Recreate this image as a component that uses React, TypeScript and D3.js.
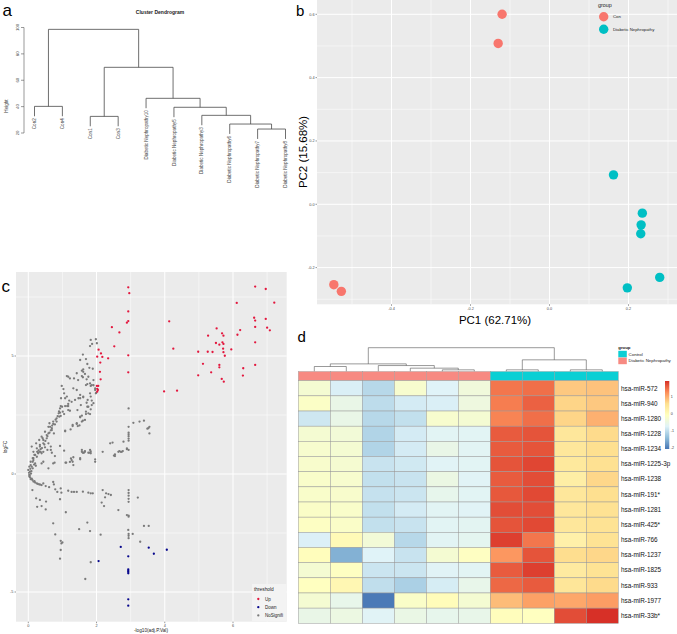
import React from "react";
import * as d3 from "d3";

const FONT = "'Liberation Sans', Arial, Helvetica, sans-serif";

// ---------- Panel a: cluster dendrogram ----------
const dendroLeaves = [
  "Con2", "Con4", "Con1", "Con3",
  "Diabetic Nephropathy10", "Diabetic Nephropathy5", "Diabetic Nephropathy3",
  "Diabetic Nephropathy6", "Diabetic Nephropathy7", "Diabetic Nephropathy8",
];
// R hclust style: negative = leaf (1-based in dendroLeaves), positive = earlier merge (1-based)
const dendroMerges: [number, number][] = [
  [-9, -10], [-8, 1], [-3, -4], [-7, 2], [-6, 4], [-1, -2], [-5, 5], [3, 7], [6, 8],
];
const dendroHeights = [23.0, 26.8, 32.6, 33.4, 39.5, 40.2, 46.3, 69.8, 98.6];
const dendroTicks = [20, 40, 60, 80, 100];
const dendroHang = 7.5;

// ---------- Panel b: PCA ----------
const pcaGroups = ["Con", "Diabetic Nephropathy"];
const pcaConPC1 = [-0.12, -0.13, -0.546, -0.527];
const pcaConPC2 = [0.6, 0.508, -0.254, -0.275];
const pcaDnPC1 = [0.162, 0.235, 0.232, 0.231, 0.279, 0.197];
const pcaDnPC2 = [0.093, -0.028, -0.065, -0.093, -0.231, -0.264];
const pcaXTicks = [-0.4, -0.2, 0.0, 0.2];
const pcaXMinor = [-0.5, -0.3, -0.1, 0.1, 0.3];
const pcaYTicks = [-0.2, 0.0, 0.2, 0.4, 0.6];
const pcaYMinor = [-0.3, -0.1, 0.1, 0.3, 0.5];

// ---------- Panel c: volcano ----------
const volcanoUp: [number, number][] = [
  [2.93, 7.91], [2.96, 7.66], [2.93, 6.89], [2.93, 6.48], [2.89, 6.41], [2.45, 6.22], [2.67, 6.0],
  [2.52, 5.41], [2.06, 5.27], [2.13, 5.11], [2.02, 4.97], [2.17, 4.96], [2.34, 4.9], [2.93, 5.03],
  [2.11, 4.72], [2.1, 4.33], [2.93, 4.31], [2.12, 4.01], [2.01, 3.73], [2.05, 3.73], [2.02, 3.61],
  [2.02, 3.49], [2.04, 3.56],
  [6.65, 7.94], [6.96, 7.84], [6.11, 7.25], [7.21, 7.26], [4.13, 6.47], [6.62, 6.62], [6.65, 6.5],
  [6.96, 6.57], [5.52, 6.17], [6.21, 6.1], [6.13, 5.9], [6.65, 6.23], [7.0, 6.2], [7.08, 6.09],
  [5.27, 5.86], [5.68, 5.96], [5.72, 5.86], [5.5, 5.55], [5.6, 5.48], [5.69, 5.58], [5.72, 5.51],
  [6.65, 5.58], [4.25, 5.31], [4.98, 5.18], [5.26, 5.18], [5.4, 5.17], [5.71, 5.31], [5.95, 5.28],
  [5.72, 5.16], [5.76, 5.01], [5.12, 4.67], [5.6, 4.62], [5.6, 4.52], [6.65, 4.62], [6.3, 4.48],
  [5.36, 4.31], [4.98, 4.18], [6.29, 4.17], [5.67, 4.03], [5.73, 3.91], [3.98, 3.5], [4.36, 3.53],
];
const volcanoDown: [number, number][] = [
  [2.71, -3.09], [3.53, -3.12], [4.06, -3.21], [3.68, -3.38], [2.93, -3.49], [2.06, -3.69],
  [2.93, -4.04], [2.93, -4.1], [2.93, -4.15], [2.93, -4.21], [2.93, -5.31], [2.93, -5.58],
];
const volcanoNotSig: [number, number][] = [
  [1.83, 5.68], [1.98, 5.71], [1.87, 5.51], [1.81, 5.42], [2.01, 5.54], [1.6, 5.06], [1.52, 4.83],
  [1.69, 4.87], [1.73, 4.66], [1.79, 4.5], [1.89, 4.46], [1.61, 4.43], [1.57, 4.38], [1.17, 4.12],
  [1.34, 4.05], [1.46, 3.98], [1.6, 4.1], [1.73, 3.81], [1.83, 3.73], [1.91, 3.76], [1.69, 3.77],
  [1.96, 3.56], [1.98, 3.42], [1.83, 3.28], [1.74, 3.14], [1.61, 3.28], [1.52, 3.21], [0.98, 3.73],
  [1.03, 3.6], [1.05, 3.42], [1.13, 3.28], [0.96, 3.21], [1.2, 3.11], [1.14, 2.88], [0.99, 2.85],
  [0.93, 2.78], [0.89, 2.57], [1.05, 2.54], [0.95, 2.46], [1.17, 2.71], [0.83, 2.22], [0.73, 2.12],
  [0.64, 2.0], [0.69, 1.86], [0.59, 1.72], [0.54, 1.51], [0.44, 1.3], [0.34, 1.16], [0.26, 0.94],
  [0.2, 0.81], [0.15, 0.67], [0.13, 0.52], [0.1, 0.31],
  [1.73, 2.85], [1.83, 2.74], [1.69, 2.54], [1.81, 2.54], [1.57, 2.47], [1.52, 2.4], [1.6, 2.26],
  [1.42, 2.12], [1.5, 2.06], [1.3, 2.03], [1.24, 1.89], [1.08, 1.81],
  [1.13, 4.15], [1.22, 4.05], [1.42, 4.27], [1.57, 4.15], [1.61, 4.33], [1.66, 4.24], [1.76, 4.12],
  [1.81, 3.84], [1.86, 3.77], [1.71, 4.01], [1.91, 3.98], [1.96, 3.63], [1.99, 3.44], [1.52, 3.35],
  [1.47, 3.21], [1.37, 3.14], [1.27, 3.06], [1.17, 2.97], [1.08, 3.21], [1.81, 3.42], [1.86, 3.11],
  [1.91, 3.0], [1.61, 3.25], [1.71, 3.02], [1.54, 2.92], [1.32, 3.63], [1.42, 3.56],
  [0.1, 1.16], [0.15, 0.94], [0.18, 0.81], [0.13, 0.67], [0.07, 0.52], [0.03, 0.31], [0.0, 0.17],
  [0.03, -0.04], [0.05, -0.14], [0.23, 1.3], [0.25, 1.09], [0.29, 0.9], [0.34, 1.23], [0.32, 1.44],
  [0.39, 1.58], [0.44, 1.44], [0.49, 1.79], [0.54, 1.65], [0.59, 2.0], [0.62, 2.15], [0.69, 1.94],
  [0.73, 2.22], [0.75, 1.72], [0.59, 1.3], [0.66, 1.16], [0.66, 1.02], [0.56, 1.02], [0.49, 1.13],
  [0.44, 0.94], [0.39, 0.88], [0.34, 0.94], [0.78, 0.76], [0.83, 2.36], [0.91, 2.43], [0.93, 2.6],
  [1.01, 2.64], [0.95, 2.88], [1.08, 2.88], [1.17, 2.88], [1.08, 1.84], [1.3, 2.08], [1.42, 2.15],
  [1.45, 2.03], [1.57, 2.22], [1.52, 2.43], [1.66, 2.29], [1.69, 2.64], [1.76, 2.57], [1.76, 2.85],
  [1.86, 2.92], [1.22, 2.68], [1.44, 2.71], [0.93, 1.19], [1.05, 0.99], [1.57, 1.02], [1.66, 0.97],
  [1.81, 1.02], [1.83, 0.88], [1.25, 0.66], [1.32, 0.71], [1.52, 0.67], [1.96, 0.62],
  [2.18, 0.94], [2.4, 1.3], [2.47, 1.33], [2.54, 0.83], [2.67, 0.97], [2.77, 0.97], [2.89, 1.05],
  [2.94, 1.02], [2.79, 1.37], [2.94, 1.41], [2.94, 1.5], [2.94, 1.6], [2.94, 1.68], [2.94, 1.75],
  [2.94, 2.0], [2.94, 2.78], [3.08, 2.17], [3.26, 2.22], [3.39, 2.26], [3.52, 1.94], [3.55, 2.0],
  [3.55, 1.72], [3.49, 1.92], [2.89, 1.09], [2.64, 0.94], [2.74, 0.94], [2.51, 0.78], [1.57, 0.94],
  [1.63, 0.9], [1.76, 0.9], [1.83, 0.96], [1.3, 0.52], [1.52, 0.62], [1.22, 0.51], [1.09, 0.48],
  [0.77, 0.48], [1.96, 0.52],
  [0.15, 0.59], [0.2, 0.45], [0.25, 0.73], [0.29, 0.88], [0.36, 0.94], [0.07, 0.38], [0.13, 0.24],
  [0.39, 0.45], [0.44, 0.52], [0.59, 0.24], [0.69, 0.9], [0.73, 0.45], [1.11, 0.48], [1.27, 0.59],
  [1.32, 0.38], [1.6, 0.9], [1.66, 0.94], [1.81, 0.9], [2.54, 0.76], [2.71, 0.94],
  [0.03, -0.11], [0.07, -0.22], [0.15, -0.32], [0.25, -0.4], [0.32, -0.44], [0.39, -0.47],
  [0.44, -0.4], [0.51, -0.51], [0.61, -0.56], [0.73, -0.34], [0.75, -0.44], [0.79, -0.65],
  [0.85, -0.76], [0.95, -0.61], [0.97, -0.79], [1.17, -0.71], [1.27, -0.76], [1.34, -0.76],
  [1.42, -0.76], [1.6, -0.75], [1.76, -0.79], [1.89, -0.82], [1.83, -0.82], [2.18, -0.68],
  [2.28, -0.82], [2.35, -0.85], [2.42, -0.89], [2.25, -0.99], [2.15, -1.21], [2.22, -1.36],
  [2.64, -1.53], [3.21, -1.0], [2.94, -0.68], [2.94, -0.8], [2.94, -0.92], [2.94, -1.05],
  [2.94, -1.18], [2.89, -1.74], [2.94, -1.81], [2.94, -1.76], [2.93, -2.37], [2.94, -2.54],
  [2.94, -2.62], [2.94, -2.72], [3.06, -2.54], [3.28, -2.87], [3.39, -2.2], [3.53, -2.2],
  [0.12, -0.68], [0.23, -1.03], [0.34, -1.1], [0.26, -1.39], [0.39, -1.36], [0.51, -1.5],
  [0.52, -1.17], [0.93, -1.07], [1.1, -1.62], [0.73, -2.09], [0.79, -2.56], [0.95, -2.83],
  [1.0, -2.9], [0.97, -2.94], [0.95, -3.22], [0.93, -3.59], [1.49, -2.34], [1.73, -2.06],
  [1.81, -2.42], [2.12, -2.57], [1.83, -3.74], [1.67, -4.45],
  [0.02, 0.05], [0.05, 0.1], [0.04, -0.05], [0.08, 0.02], [0.1, -0.2], [0.12, -0.25], [0.18, -0.3],
  [0.2, -0.36], [0.22, 0.35], [0.17, 0.4], [0.06, 0.22], [0.09, 0.12], [0.28, -0.42], [0.35, -0.45],
  [0.3, 1.0], [0.36, 1.05], [0.4, 1.1], [0.47, 1.25], [0.5, 1.4], [0.42, 1.52], [0.56, 1.6],
  [0.62, 1.75], [0.66, 1.85], [0.7, 2.05], [0.78, 2.1], [0.8, 2.3], [0.86, 2.45], [0.9, 2.65],
];
const volcanoXTicks = [0, 2, 4, 6];
const volcanoXMinor = [1, 3, 5, 7];
const volcanoYTicks = [-5, 0, 5];
const volcanoYMinor = [-2.5, 2.5, 7.5];
const volcanoLegend = ["Up", "Down", "NoSignifi"];

// ---------- Panel d: heatmap ----------
const heatRows = [
  "hsa-miR-572", "hsa-miR-940", "hsa-miR-1280", "hsa-miR-1228", "hsa-miR-1234", "hsa-miR-1225-3p",
  "hsa-miR-1238", "hsa-miR-191*", "hsa-miR-1281", "hsa-miR-425*", "hsa-miR-766", "hsa-miR-1237",
  "hsa-miR-1825", "hsa-miR-933", "hsa-miR-1977", "hsa-miR-33b*",
];
const heatColGroups = [
  "Diabetic Nephropathy", "Diabetic Nephropathy", "Diabetic Nephropathy",
  "Diabetic Nephropathy", "Diabetic Nephropathy", "Diabetic Nephropathy",
  "Control", "Control", "Control", "Control",
];
const heatValues: number[][] = [
  [-0.3, -0.8, -1.1, -0.25, -0.75, -0.4, 1.45, 1.5, 0.8, 0.85],
  [-0.15, -0.55, -1.05, -0.85, -0.8, -0.45, 1.4, 1.6, 0.7, 0.8],
  [-0.9, -0.55, -1.1, -1.0, -0.25, -0.3, 1.35, 1.5, 0.7, 1.0],
  [-0.3, -0.35, -1.15, -0.85, -0.7, -0.7, 1.65, 1.7, 0.45, 0.65],
  [-0.25, -0.3, -1.15, -0.85, -0.55, -0.7, 1.65, 1.7, 0.45, 0.6],
  [-0.22, -0.28, -0.95, -0.88, -0.72, -0.7, 1.7, 1.8, 0.42, 0.58],
  [-0.2, -0.25, -1.0, -0.95, -0.5, -0.72, 1.65, 1.75, 0.3, 0.68],
  [-0.2, -0.22, -0.98, -0.93, -0.6, -0.7, 1.67, 1.78, 0.45, 0.6],
  [-0.17, -0.2, -1.0, -0.85, -0.7, -0.72, 1.75, 1.75, 0.45, 0.57],
  [-0.12, -0.18, -1.0, -0.95, -0.7, -0.68, 1.7, 1.78, 0.45, 0.55],
  [-0.78, 0.05, -0.35, -1.1, -0.7, -0.65, 1.85, 1.45, 0.25, 0.55],
  [-0.02, -1.55, -0.75, -0.95, -0.3, -0.1, 1.2, 1.7, 0.62, 0.68],
  [-0.3, -0.1, -0.93, -0.93, -0.72, -0.7, 1.65, 1.85, 0.38, 0.55],
  [-0.08, 0.1, -1.02, -1.2, -0.83, -0.58, 1.55, 1.65, 0.48, 0.65],
  [-0.3, -0.58, -2.05, -0.18, 0.0, -0.3, 0.9, 1.12, 1.07, 1.15],
  [-0.55, -0.48, -0.72, -0.52, -0.6, -0.57, -0.03, -0.08, 1.75, 1.96],
];
const heatColMerges: [number, number][] = [
  [-1, -2], [-5, -6], [-4, 2], [-3, 3], [1, 4], [-7, -8], [-9, -10], [6, 7], [5, 8],
];
const heatColHeights = [0.21, 0.07, 0.14, 0.25, 0.32, 0.07, 0.07, 0.49, 1.0];
const heatPalette = ["#4575B4", "#91BFDB", "#E0F3F8", "#FFFFBF", "#FEE090", "#FC8D59", "#D73027"];
const heatMin = -2.1;
const heatMax = 1.96;
const heatLegendTicks = [-2, -1, 0, 1];
const annoGroups = ["Control", "Diabetic Nephropathy"];
const annoColors = ["#0ACFD4", "#F78A82"];

type Seg = [number, number, number, number];

function dendro(
  merges: [number, number][],
  heights: number[],
  leafX: (i: number) => number,
  y: (h: number) => number,
  leafY: (parentH: number) => number
) {
  const nx: number[] = [];
  const ny: number[] = [];
  const segs: Seg[] = [];
  const leafEnds: Record<number, number> = {};
  merges.forEach(([a, b], k) => {
    const h = heights[k];
    const yy = y(h);
    const child = (c: number) => {
      if (c < 0) {
        const ly = leafY(h);
        leafEnds[-c - 1] = ly;
        return { x: leafX(-c - 1), y: ly };
      }
      return { x: nx[c - 1], y: ny[c - 1] };
    };
    const A = child(a);
    const B = child(b);
    segs.push([A.x, yy, B.x, yy], [A.x, yy, A.x, A.y], [B.x, yy, B.x, B.y]);
    nx[k] = (A.x + B.x) / 2;
    ny[k] = yy;
  });
  return { segs, leafEnds };
}

const fmt1 = (v: number) => v.toFixed(1);

export default function App() {
  // ---- panel a
  const xA = d3.scalePoint<string>().domain(dendroLeaves).range([34.5, 285.5]);
  const yA = d3.scaleLinear().domain([20, 100]).range([133, 27.5]);
  const dA = dendro(
    dendroMerges,
    dendroHeights,
    (i) => xA(dendroLeaves[i]) as number,
    (h) => yA(h),
    (h) => yA(h - dendroHang)
  );

  // ---- panel b
  const bL = 317, bR = 677, bT = 0, bB = 304.3;
  const xB = d3.scaleLinear().domain([-0.4, 0.2]).range([391.5, 628.5]);
  const yB = d3.scaleLinear().domain([-0.2, 0.6]).range([267.6, 14.3]);
  const pcaColors = d3.scaleOrdinal<string, string>().domain(pcaGroups).range(["#F8766D", "#00BFC4"]);

  // ---- panel c
  const cL = 16, cR = 286.7, cT = 272, cB = 621.7;
  const xC = d3.scaleLinear().domain([0, 6]).range([28.3, 233]);
  const yC = d3.scaleLinear().domain([-5, 5]).range([592, 356]);
  const volColors = d3.scaleOrdinal<string, string>().domain(volcanoLegend).range(["#E3173E", "#06068C", "#7A7A7A"]);

  // ---- panel d
  const colIdx = d3.range(heatColGroups.length).map(String);
  const xD = d3.scaleBand<string>().domain(colIdx).range([298.3, 618.3]);
  const yD = d3.scaleBand<string>().domain(heatRows).range([380.7, 623.3]);
  const heatColor = d3
    .scaleLinear<string>()
    .domain(d3.range(heatPalette.length).map((i) => heatMin + (i * (heatMax - heatMin)) / (heatPalette.length - 1)))
    .range(heatPalette)
    .interpolate(d3.interpolateRgb)
    .clamp(true);
  const annoColor = d3.scaleOrdinal<string, string>().domain(annoGroups).range(annoColors);
  const yDD = d3.scaleLinear().domain([0, 1]).range([371.5, 347.7]);
  const dD = dendro(
    heatColMerges,
    heatColHeights,
    (i) => (xD(String(i)) as number) + xD.bandwidth() / 2,
    (h) => yDD(h),
    () => yDD(0)
  );
  const yLeg = d3.scaleLinear().domain([heatMin, heatMax]).range([449, 381]);

  const tickCol = "#4D4D4D";

  return (
    <svg
      width={677}
      height={634}
      style={{ position: "absolute", left: 0, top: 0, background: "#fff" }}
      fontFamily={FONT}
    >
      <defs>
        <linearGradient id="heatGrad" x1="0" y1="1" x2="0" y2="0">
          {heatPalette.map((c, i) => (
            <stop key={i} offset={`${(i / (heatPalette.length - 1)) * 100}%`} stopColor={c} />
          ))}
        </linearGradient>
      </defs>

      {/* ================= Panel a ================= */}
      <g>
        <text x={160} y={14} fontSize={5} fontWeight="bold" textAnchor="middle" fill="#222">
          Cluster Dendrogram
        </text>
        <line x1={24} x2={24} y1={yA(100)} y2={yA(20)} stroke="#555" strokeWidth={0.6} />
        {dendroTicks.map((t) => (
          <g key={t}>
            <line x1={21} x2={24} y1={yA(t)} y2={yA(t)} stroke="#555" strokeWidth={0.6} />
            <text
              transform={`translate(18.6,${yA(t)}) rotate(-90)`}
              fontSize={4.2}
              textAnchor="middle"
              fill="#444"
            >
              {t}
            </text>
          </g>
        ))}
        <text transform="translate(7.8,106) rotate(-90)" fontSize={4.6} textAnchor="middle" fill="#444">
          Height
        </text>
        {dA.segs.map((s, i) => (
          <line key={i} x1={s[0]} y1={s[1]} x2={s[2]} y2={s[3]} stroke="#4a4a4a" strokeWidth={0.8} />
        ))}
        {dendroLeaves.map((name, i) => (
          <text
            key={name}
            transform={`translate(${xA(name)},${dA.leafEnds[i] + 2}) rotate(-90)`}
            fontSize={4.6}
            textAnchor="end"
            dy="0.35em"
            fill="#444"
          >
            {name}
          </text>
        ))}
        <text x={2.5} y={16} fontSize={17} fill="#000">a</text>
      </g>

      {/* ================= Panel b ================= */}
      <g>
        <rect x={bL} y={bT} width={bR - bL} height={bB - bT} fill="#EBEBEB" />
        {pcaXMinor.map((t) => (
          <line key={"xm" + t} x1={xB(t)} x2={xB(t)} y1={bT} y2={bB} stroke="#fff" strokeWidth={0.5} />
        ))}
        {pcaYMinor.map((t) => (
          <line key={"ym" + t} x1={bL} x2={bR} y1={yB(t)} y2={yB(t)} stroke="#fff" strokeWidth={0.5} />
        ))}
        {pcaXTicks.map((t) => (
          <line key={"x" + t} x1={xB(t)} x2={xB(t)} y1={bT} y2={bB} stroke="#fff" strokeWidth={1} />
        ))}
        {pcaYTicks.map((t) => (
          <line key={"y" + t} x1={bL} x2={bR} y1={yB(t)} y2={yB(t)} stroke="#fff" strokeWidth={1} />
        ))}
        {pcaXTicks.map((t) => (
          <g key={"xt" + t}>
            <line x1={xB(t)} x2={xB(t)} y1={bB} y2={bB + 1.5} stroke="#333" strokeWidth={0.5} />
            <text x={xB(t)} y={bB + 5.6} fontSize={3.8} textAnchor="middle" fill={tickCol}>
              {fmt1(t)}
            </text>
          </g>
        ))}
        {pcaYTicks.map((t) => (
          <g key={"yt" + t}>
            <line x1={bL - 1.5} x2={bL} y1={yB(t)} y2={yB(t)} stroke="#333" strokeWidth={0.5} />
            <text x={bL - 2.5} y={yB(t)} dy="0.35em" fontSize={3.8} textAnchor="end" fill={tickCol}>
              {fmt1(t)}
            </text>
          </g>
        ))}
        <text x={495} y={324} fontSize={11.5} textAnchor="middle" fill="#000">
          PC1 (62.71%)
        </text>
        <text transform="translate(306.5,152) rotate(-90)" fontSize={11.5} textAnchor="middle" fill="#000">
          PC2 (15.68%)
        </text>
        {pcaConPC1.map((x, i) => (
          <circle key={"c" + i} cx={xB(x)} cy={yB(pcaConPC2[i])} r={4.7} fill={pcaColors("Con")} />
        ))}
        {pcaDnPC1.map((x, i) => (
          <circle key={"d" + i} cx={xB(x)} cy={yB(pcaDnPC2[i])} r={4.7} fill={pcaColors("Diabetic Nephropathy")} />
        ))}
        <text x={598} y={7.3} fontSize={5.4} fill="#222">group</text>
        {pcaGroups.map((g, i) => (
          <g key={g}>
            <circle cx={603.7} cy={16.7 + i * 12.6} r={4.7} fill={pcaColors(g)} />
            <text x={613} y={16.7 + i * 12.6} dy="0.35em" fontSize={4.3} fill="#222">
              {g}
            </text>
          </g>
        ))}
        <text x={296} y={15.7} fontSize={15} fill="#000">b</text>
      </g>

      {/* ================= Panel c ================= */}
      <g>
        <rect x={cL} y={cT} width={cR - cL} height={cB - cT} fill="#EBEBEB" />
        {volcanoXMinor.map((t) => (
          <line key={"xm" + t} x1={xC(t)} x2={xC(t)} y1={cT} y2={cB} stroke="#fff" strokeWidth={0.5} />
        ))}
        {volcanoYMinor.map((t) => (
          <line key={"ym" + t} x1={cL} x2={cR} y1={yC(t)} y2={yC(t)} stroke="#fff" strokeWidth={0.5} />
        ))}
        {volcanoXTicks.map((t) => (
          <line key={"x" + t} x1={xC(t)} x2={xC(t)} y1={cT} y2={cB} stroke="#fff" strokeWidth={1} />
        ))}
        {volcanoYTicks.map((t) => (
          <line key={"y" + t} x1={cL} x2={cR} y1={yC(t)} y2={yC(t)} stroke="#fff" strokeWidth={1} />
        ))}
        {volcanoXTicks.map((t) => (
          <g key={"xt" + t}>
            <line x1={xC(t)} x2={xC(t)} y1={cB} y2={cB + 1.5} stroke="#333" strokeWidth={0.5} />
            <text x={xC(t)} y={cB + 5.4} fontSize={3.8} textAnchor="middle" fill={tickCol}>
              {t}
            </text>
          </g>
        ))}
        {volcanoYTicks.map((t) => (
          <g key={"yt" + t}>
            <line x1={cL - 1.5} x2={cL} y1={yC(t)} y2={yC(t)} stroke="#333" strokeWidth={0.5} />
            <text x={cL - 2.5} y={yC(t)} dy="0.35em" fontSize={3.8} textAnchor="end" fill={tickCol}>
              {t}
            </text>
          </g>
        ))}
        <text x={151} y={632} fontSize={4.7} textAnchor="middle" fill="#222">
          -log10(adj.P.Val)
        </text>
        <text transform="translate(7,447) rotate(-90)" fontSize={4.7} textAnchor="middle" fill="#222">
          logFC
        </text>
        {volcanoNotSig.map((p, i) => (
          <circle key={"n" + i} cx={xC(p[0])} cy={yC(p[1])} r={1.15} fill={volColors("NoSignifi")} />
        ))}
        {volcanoUp.map((p, i) => (
          <circle key={"u" + i} cx={xC(p[0])} cy={yC(p[1])} r={1.15} fill={volColors("Up")} />
        ))}
        {volcanoDown.map((p, i) => (
          <circle key={"d" + i} cx={xC(p[0])} cy={yC(p[1])} r={1.15} fill={volColors("Down")} />
        ))}
        <rect x={252} y={584} width={34.5} height={37} fill="#F3F3F3" />
        <text x={254} y={591} fontSize={4.8} fill="#222">threshold</text>
        {volcanoLegend.map((g, i) => (
          <g key={g}>
            <circle cx={258.3} cy={599 + i * 8.2} r={1.15} fill={volColors(g)} />
            <text x={265} y={599 + i * 8.2} dy="0.35em" fontSize={4.5} fill="#222">
              {g}
            </text>
          </g>
        ))}
        <text x={1.5} y={292} fontSize={17} fill="#000">c</text>
      </g>

      {/* ================= Panel d ================= */}
      <g>
        {dD.segs.map((s, i) => (
          <line key={i} x1={s[0]} y1={s[1]} x2={s[2]} y2={s[3]} stroke="#555" strokeWidth={0.6} />
        ))}
        {heatColGroups.map((g, j) => (
          <rect
            key={"a" + j}
            x={xD(String(j))}
            y={371.5}
            width={xD.bandwidth()}
            height={380.7 - 371.5}
            fill={annoColor(g)}
            stroke="#999"
            strokeWidth={0.4}
          />
        ))}
        {heatRows.map((r, i) => (
          <g key={r}>
            {heatValues[i].map((v, j) => (
              <rect
                key={j}
                x={xD(String(j))}
                y={yD(r)}
                width={xD.bandwidth()}
                height={yD.bandwidth()}
                fill={heatColor(v)}
                stroke="#9a9a9a"
                strokeWidth={0.5}
              />
            ))}
            <text x={621} y={(yD(r) as number) + yD.bandwidth() / 2} dy="0.35em" fontSize={6.4} fill="#111">
              {r}
            </text>
          </g>
        ))}
        <text x={618.3} y={349.4} fontSize={4.3} fontWeight="bold" fill="#111">group</text>
        {annoGroups.map((g, i) => (
          <g key={g}>
            <rect x={618.3} y={350.8 + i * 6.8} width={8.5} height={6.6} fill={annoColor(g)} />
            <text x={628.6} y={354.1 + i * 6.8} dy="0.35em" fontSize={4.4} fill="#222">
              {g}
            </text>
          </g>
        ))}
        <rect x={665} y={yLeg(heatMax)} width={4.3} height={yLeg(heatMin) - yLeg(heatMax)} fill="url(#heatGrad)" />
        {heatLegendTicks.map((t) => (
          <g key={t}>
            <line x1={669.3} x2={670.3} y1={yLeg(t)} y2={yLeg(t)} stroke="#fff" strokeWidth={0.4} />
            <text x={670.8} y={yLeg(t)} dy="0.35em" fontSize={3.6} fill="#333">
              {t}
            </text>
          </g>
        ))}
        <text x={297.5} y={342} fontSize={15} fill="#000">d</text>
      </g>
    </svg>
  );
}
